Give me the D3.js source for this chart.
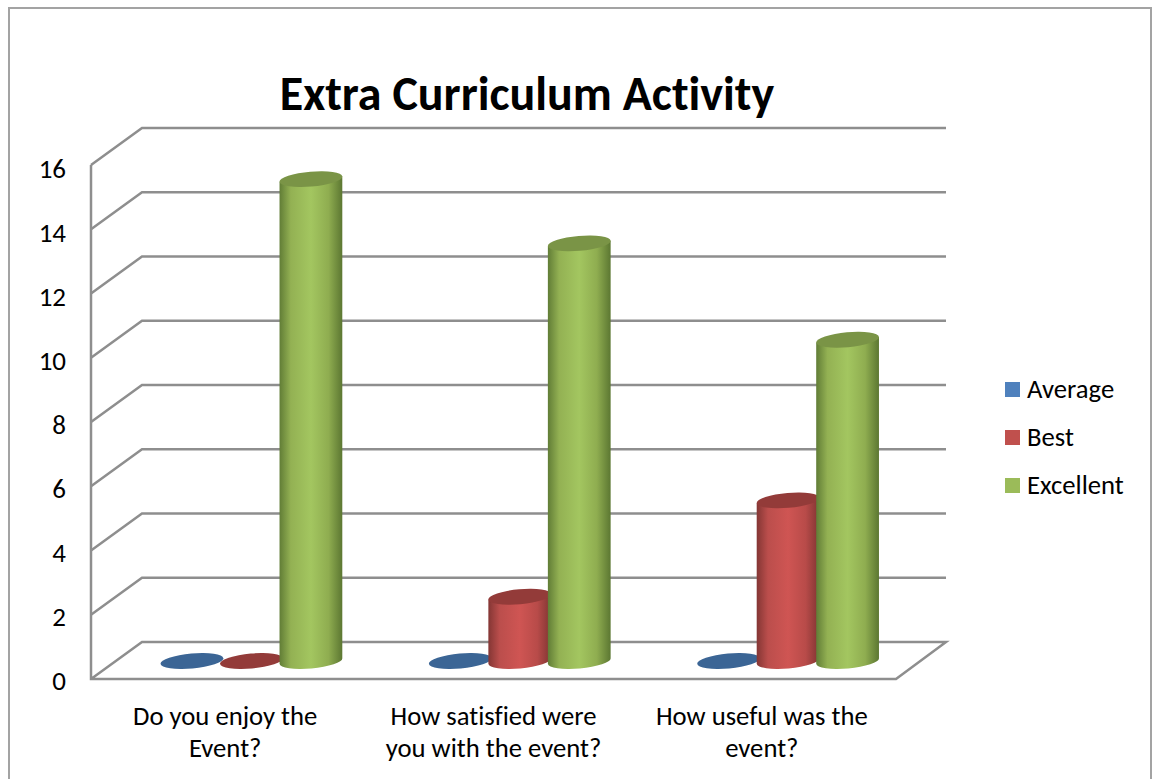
<!DOCTYPE html>
<html>
<head>
<meta charset="utf-8">
<script src="https://cdn.jsdelivr.net/npm/d3@7"></script>
<style>
html, body { margin: 0; padding: 0; background: #fff; overflow: hidden; }
svg { display: block; }
text { font-family: Carlito, Calibri, Lato, sans-serif; fill: #000; font-variant-ligatures: none; }
</style>
</head>
<body>
<svg width="1152" height="779"></svg>
<script>
// Data
var categories = ["Do you enjoy the Event?", "How satisfied were you with the event?", "How useful was the event?"];
var categoryLines = [["Do you enjoy the", "Event?"], ["How satisfied were", "you with the event?"], ["How useful was the", "event?"]];
var seriesNames = ["Average", "Best", "Excellent"];
var averageValues = [0, 0, 0];
var bestValues = [0, 2, 5];
var excellentValues = [15, 13, 10];
var yTicks = [0, 2, 4, 6, 8, 10, 12, 14, 16];

var seriesValues = [averageValues, bestValues, excellentValues];

var legendColor = ["#4f81bd", "#c0504d", "#9bbb59"];
var capColor = ["#3b6595", "#933b39", "#7a9446"];
var gradStops = [
    ["#2f5580", "#4f81bd", "#5a8fd0", "#4677ae", "#2f5580"],
    ["#843634", "#bb4e4c", "#cf5553", "#b84b49", "#7f3432"],
    ["#617d36", "#93b153", "#a3c660", "#8fad50", "#5c7732"]
];

var svg = d3.select("svg");

// Floor/wall geometry of the 3d box
var front = { left: 91, right: 896, bottom: 679, top: 165 };
var back = { left: 142, right: 946, bottom: 642, top: 128 };
var lineColor = "#8e8e8e";

// Scales
var yFront = d3.scaleLinear().domain([0, 16]).range([front.bottom, front.top]);
var yBack = d3.scaleLinear().domain([0, 16]).range([back.bottom, back.top]);
var yBar = d3.scaleLinear().domain([0, 16]).range([661, 147]);
var yLabel = d3.scaleLinear().domain([0, 16]).range([681, 169]);
var xLabel = d3.scaleBand().domain(categories).range([front.left, front.right]);
var xCat = d3.scaleBand().domain(categories).range([116.5, 921.5]);
var xSeries = d3.scaleBand().domain(seriesNames).range([-88.5, 90]);

// Page frame
svg.append("rect")
    .attr("x", 9).attr("y", 8)
    .attr("width", 1142).attr("height", 800)
    .attr("fill", "#fff")
    .attr("stroke", "#a3a3a3")
    .attr("stroke-width", 2);

// Title
svg.append("text")
    .attr("x", 527)
    .attr("y", 110)
    .attr("text-anchor", "middle")
    .style("font-size", "48px")
    .style("font-weight", "bold")
    .text("Extra Curriculum Activity");

// Gridlines
var gridG = svg.append("g")
    .attr("fill", "none")
    .attr("stroke", lineColor)
    .attr("stroke-width", 2.5);

gridG.selectAll(".wall")
    .data(yTicks.filter(d => d > 0))
    .enter().append("path")
    .attr("class", "wall")
    .attr("d", d => "M" + front.left + "," + yFront(d) + "L" + back.left + "," + yBack(d) + "L" + back.right + "," + yBack(d));

// Floor and front axis
gridG.append("path")
    .attr("d", "M" + front.left + "," + front.top + "V" + front.bottom + "H" + front.right +
        "L" + back.right + "," + back.bottom + "H" + back.left + "L" + front.left + "," + front.bottom);

// Y labels
var yAxis = d3.axisLeft(yLabel).tickValues(yTicks).tickSize(0).tickPadding(0);
var yAxisG = svg.append("g")
    .attr("transform", "translate(66,0)")
    .call(yAxis);
yAxisG.select(".domain").remove();
yAxisG.selectAll("text")
    .style("font-size", "27px")
    .style("font-family", "Carlito, Calibri, Lato, sans-serif");

// Category labels
var catLabels = svg.selectAll(".cat")
    .data(categories)
    .enter().append("text")
    .attr("class", "cat")
    .attr("text-anchor", "middle")
    .style("font-size", "26.7px");

catLabels.selectAll("tspan")
    .data((d, i) => categoryLines[i].map(s => ({ s: s, c: d })))
    .enter().append("tspan")
    .attr("x", d => xLabel(d.c) + xLabel.bandwidth() / 2)
    .attr("y", (d, i) => 725 + i * 32)
    .text(d => d.s);

// Cylinder gradients
var defs = svg.append("defs");
seriesNames.forEach(function (name, i) {
    var grad = defs.append("linearGradient")
        .attr("id", "grad" + i)
        .attr("x1", 0).attr("x2", 1).attr("y1", 0).attr("y2", 0);
    [0, 0.18, 0.5, 0.78, 1].forEach(function (off, j) {
        grad.append("stop").attr("offset", off).attr("stop-color", gradStops[i][j]);
    });
});

// Cylinders
var rx = 31.5, ry = 7.5, tilt = -5;
var dx = rx * Math.cos(tilt * Math.PI / 180);
var dy = rx * Math.sin(tilt * Math.PI / 180);

seriesNames.forEach(function (name, i) {
    var g = svg.append("g").attr("class", "series-" + i);
    categories.forEach(function (cat, c) {
        var v = seriesValues[i][c];
        var cx = xCat(cat) + xCat.bandwidth() / 2 + xSeries(name) + xSeries.bandwidth() / 2;
        var yTop = yBar(v);
        var yBase = yBar(0);
        if (v > 0) {
            g.append("path")
                .attr("d", "M" + (cx - dx) + "," + (yTop - dy) +
                    "L" + (cx - dx) + "," + (yBase - dy) +
                    "A" + rx + "," + ry + "," + tilt + ",0,0," + (cx + dx) + "," + (yBase + dy) +
                    "L" + (cx + dx) + "," + (yTop + dy) + "Z")
                .attr("fill", "url(#grad" + i + ")");
        }
        g.append("ellipse")
            .attr("rx", rx)
            .attr("ry", ry)
            .attr("transform", "translate(" + cx + "," + yTop + ") rotate(" + tilt + ")")
            .attr("fill", capColor[i]);
    });
});

// Legend
var legend = svg.selectAll(".legend")
    .data(seriesNames)
    .enter().append("g")
    .attr("class", "legend")
    .attr("transform", (d, i) => "translate(1005," + (382 + i * 48) + ")");

legend.append("rect")
    .attr("width", 15)
    .attr("height", 15)
    .attr("fill", (d, i) => legendColor[i]);

legend.append("text")
    .attr("x", 22)
    .attr("y", 16)
    .style("font-size", "26.7px")
    .text(d => d);
</script>
</body>
</html>
